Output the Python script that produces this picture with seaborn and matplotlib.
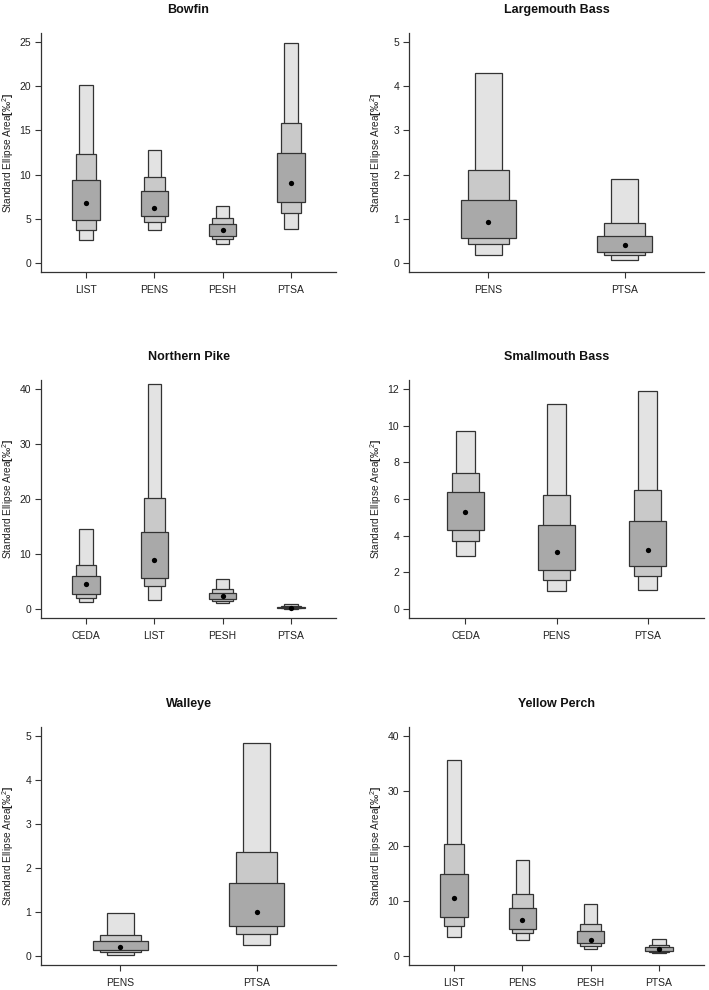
import numpy as np
import pandas as pd
import matplotlib
matplotlib.use("Agg")
import matplotlib.pyplot as plt
import seaborn as sns

# du lieu: khoang tin cay 95/75/50% va mode cua SEA_B cho tung loai ca
titles = ["Bowfin", "Largemouth Bass", "Northern Pike",
          "Smallmouth Bass", "Walleye", "Yellow Perch"]
ymax = [25, 5, 40, 12, 5, 40]
ystep = [5, 1, 10, 2, 1, 10]

sites_bowfin = ["LIST", "PENS", "PESH", "PTSA"]
lo95_bowfin = [2.6, 3.7, 2.2, 3.9]
hi95_bowfin = [20.1, 12.8, 6.5, 24.9]
lo75_bowfin = [3.8, 4.6, 2.7, 5.7]
hi75_bowfin = [12.3, 9.7, 5.1, 15.8]
lo50_bowfin = [4.9, 5.3, 3.1, 6.9]
hi50_bowfin = [9.4, 8.1, 4.4, 12.5]
mode_bowfin = [6.8, 6.2, 3.7, 9.1]

sites_lmb = ["PENS", "PTSA"]
lo95_lmb = [0.18, 0.07]
hi95_lmb = [4.3, 1.9]
lo75_lmb = [0.43, 0.18]
hi75_lmb = [2.1, 0.9]
lo50_lmb = [0.57, 0.25]
hi50_lmb = [1.42, 0.62]
mode_lmb = [0.92, 0.40]

sites_pike = ["CEDA", "LIST", "PESH", "PTSA"]
lo95_pike = [1.3, 1.7, 1.2, 0.1]
hi95_pike = [14.5, 40.9, 5.4, 1.0]
lo75_pike = [2.1, 4.2, 1.5, 0.15]
hi75_pike = [8.1, 20.1, 3.7, 0.6]
lo50_pike = [2.8, 5.7, 1.9, 0.2]
hi50_pike = [6.1, 14.0, 3.0, 0.45]
mode_pike = [4.6, 8.9, 2.4, 0.2]

sites_smb = ["CEDA", "PENS", "PTSA"]
lo95_smb = [2.9, 0.98, 1.03]
hi95_smb = [9.7, 11.2, 11.9]
lo75_smb = [3.7, 1.6, 1.8]
hi75_smb = [7.4, 6.2, 6.5]
lo50_smb = [4.3, 2.15, 2.35]
hi50_smb = [6.4, 4.6, 4.8]
mode_smb = [5.3, 3.1, 3.25]

sites_walleye = ["PENS", "PTSA"]
lo95_walleye = [0.03, 0.25]
hi95_walleye = [0.99, 4.84]
lo75_walleye = [0.09, 0.50]
hi75_walleye = [0.49, 2.37]
lo50_walleye = [0.13, 0.69]
hi50_walleye = [0.34, 1.67]
mode_walleye = [0.21, 1.0]

sites_perch = ["LIST", "PENS", "PESH", "PTSA"]
lo95_perch = [3.4, 3.0, 1.3, 0.6]
hi95_perch = [35.6, 17.5, 9.4, 3.2]
lo75_perch = [5.5, 4.2, 1.9, 0.8]
hi75_perch = [20.3, 11.3, 5.9, 2.1]
lo50_perch = [7.1, 5.0, 2.4, 1.0]
hi50_perch = [15.0, 8.8, 4.5, 1.7]
mode_perch = [10.5, 6.6, 3.0, 1.3]

panels = [
    (sites_bowfin, lo95_bowfin, hi95_bowfin, lo75_bowfin, hi75_bowfin, lo50_bowfin, hi50_bowfin, mode_bowfin),
    (sites_lmb, lo95_lmb, hi95_lmb, lo75_lmb, hi75_lmb, lo50_lmb, hi50_lmb, mode_lmb),
    (sites_pike, lo95_pike, hi95_pike, lo75_pike, hi75_pike, lo50_pike, hi50_pike, mode_pike),
    (sites_smb, lo95_smb, hi95_smb, lo75_smb, hi75_smb, lo50_smb, hi50_smb, mode_smb),
    (sites_walleye, lo95_walleye, hi95_walleye, lo75_walleye, hi75_walleye, lo50_walleye, hi50_walleye, mode_walleye),
    (sites_perch, lo95_perch, hi95_perch, lo75_perch, hi75_perch, lo50_perch, hi50_perch, mode_perch),
]

sns.set_theme(style="ticks")
plt.rcParams["font.family"] = ["Liberation Sans", "DejaVu Sans"]
plt.rcParams["mathtext.fontset"] = "custom"
plt.rcParams["mathtext.rm"] = "Liberation Sans"
plt.rcParams["mathtext.bf"] = "Liberation Sans:bold"

W, H = 709, 990
fig = plt.figure(figsize=(W / 100, H / 100), dpi=100)

# vi tri cac o (pixel): trai, phai, tren, duoi
lefts = [41, 409]
rights = [336, 704]
tops = [33, 380, 727]
bottoms = [272, 618, 965]

edge = "#333333"
cols = ["#e3e3e3", "#c9c9c9", "#a9a9a9"]
widths = [0.2, 0.3, 0.4]

ylab = "Standard Ellipse Area" + r"$\mathbf{[}$" + "‰" + r"$^{2}$" + r"$\mathbf{]}$"

for i, (title, ym, p) in enumerate(zip(titles, ymax, panels)):
    r, c = divmod(i, 2)
    x0 = lefts[c] / W
    x1 = rights[c] / W
    y0 = 1 - bottoms[r] / H
    y1 = 1 - tops[r] / H
    ax = fig.add_axes([x0, y0, x1 - x0, y1 - y0])
    sites, lo95, hi95, lo75, hi75, lo50, hi50, mode = p
    for k, (lo, hi) in enumerate([(lo95, hi95), (lo75, hi75), (lo50, hi50)]):
        d = pd.DataFrame({"site": sites, "h": np.array(hi) - np.array(lo)})
        sns.barplot(data=d, x="site", y="h", bottom=lo, width=widths[k],
                    color=cols[k], edgecolor=edge, linewidth=0.9,
                    errorbar=None, saturation=1, ax=ax, zorder=2 + k)
    dm = pd.DataFrame({"site": sites, "mode": mode})
    sns.stripplot(data=dm, x="site", y="mode", jitter=False, color="black",
                  size=3.8, linewidth=0, ax=ax, zorder=10)
    n = len(sites)
    ax.set_xlim(-0.5 - 0.04 * n, n - 0.5 + 0.04 * n)
    ax.set_ylim(-0.04 * ym, 1.04 * ym)
    ax.set_yticks(np.arange(0, ym + 0.001, ystep[i]))
    ax.set_xlabel("")
    ax.set_ylabel(ylab, fontsize=7.3, color="#222222")
    ax.yaxis.set_label_coords(-0.085, 0.5)
    ax.set_title(title, fontsize=9, fontweight="bold", pad=14.5, color="#111111")
    for s in ["left", "bottom"]:
        ax.spines[s].set_color(edge)
        ax.spines[s].set_linewidth(0.9)
    ax.spines["top"].set_visible(False)
    ax.spines["right"].set_visible(False)
    ax.tick_params(axis="both", labelsize=7.5, colors=edge, labelcolor="#222222",
                   length=4, width=0.8, direction="out")
    ax.tick_params(axis="x", pad=5.5)
    ax.tick_params(axis="y", pad=3)
    ax.set_facecolor("white")

fig.savefig("out.png", dpi=100)
